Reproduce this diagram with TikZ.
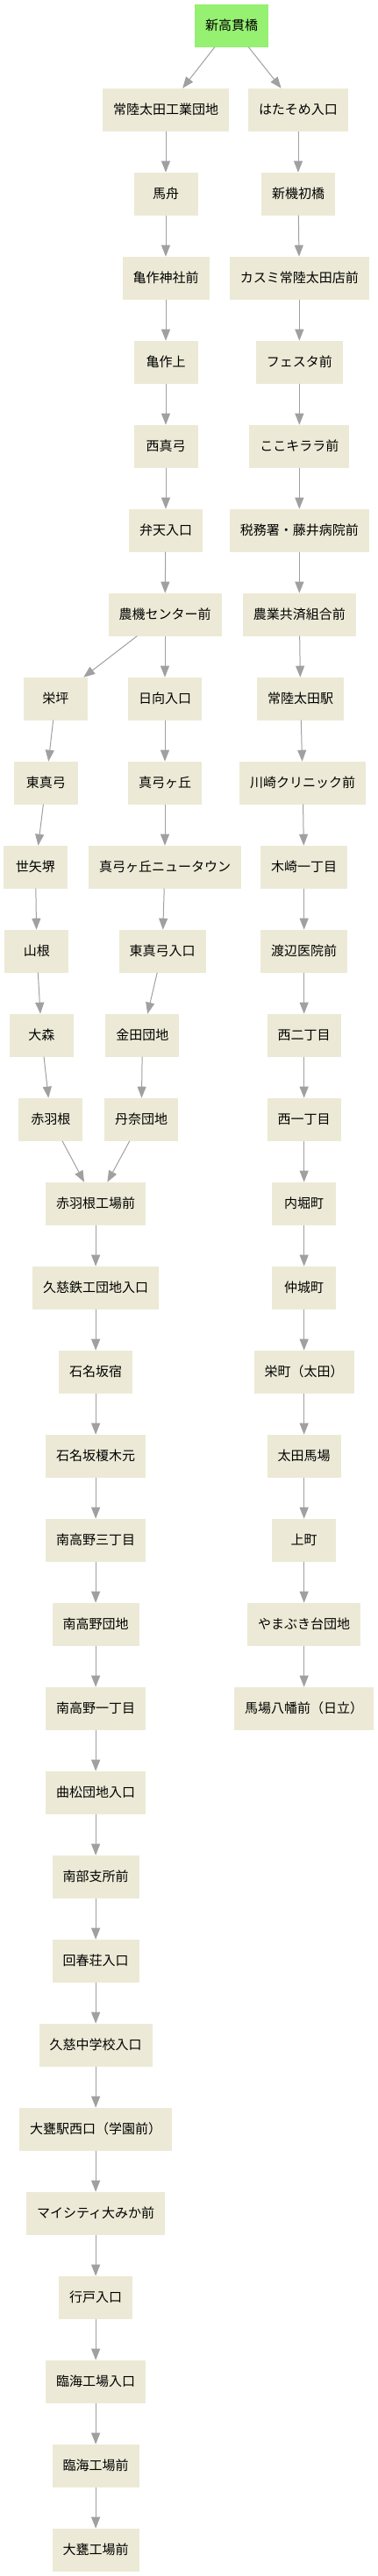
\documentclass[tikz,border=0pt]{standalone}
\usepackage{fontspec}
\newfontfamily\jpfont{Noto Sans CJK JP}
\usepackage{xcolor}
\usepackage{tikz}
\usetikzlibrary{arrows.meta,positioning}
\definecolor{stopfill}{RGB}{236,234,214}
\definecolor{startfill}{RGB}{150,240,114}
\definecolor{routegray}{RGB}{160,160,160}

\begin{document}
\begin{tikzpicture}[
  node distance=35.25pt and 10pt,
  every node/.style={font=\jpfont\fontsize{11.25pt}{13pt}\selectfont},
  stopbox/.style={fill=stopfill,inner xsep=9pt,outer sep=0pt,
                  minimum width=54.75pt,minimum height=36.75pt},
  startbox/.style={stopbox,fill=startfill},
  route/.style={-{Triangle[length=9.75pt,width=7.5pt]},line width=0.75pt,
                draw=routegray}
]
\useasboundingbox (0,0) rectangle (323.25pt,-2204.25pt);
\node[startbox] (takanuki) at (198pt,-21.9pt) {新高貫橋};
% left line
\node[stopbox,below=of takanuki,xshift=-56.25pt] (kogyo) {常陸太田工業団地};
\node[stopbox,below=of kogyo] (umafune) {馬舟};
\node[stopbox,below=of umafune] (kamesakujinja) {亀作神社前};
\node[stopbox,below=of kamesakujinja] (kamesakuue) {亀作上};
\node[stopbox,below=of kamesakuue] (nishimayumi) {西真弓};
\node[stopbox,below=of nishimayumi] (benten) {弁天入口};
\node[stopbox,below=of benten,xshift=-.75pt] (noki) {農機センター前};
\node[stopbox,below=of noki,xshift=-93.4pt] (sakaetsubo) {栄坪};
\node[stopbox,below=of sakaetsubo,xshift=-8.25pt] (higashimayumi) {東真弓};
\node[stopbox,below=of higashimayumi,xshift=-9pt] (seyasakai) {世矢堺};
\node[stopbox,below=of seyasakai,xshift=1.1pt] (yamane) {山根};
\node[stopbox,below=of yamane,xshift=4.1pt] (omori) {大森};
\node[stopbox,below=of omori,xshift=7.9pt] (akabane) {赤羽根};
\node[stopbox,below=of noki] (hinata) {日向入口};
\node[stopbox,below=of hinata] (mayumigaoka) {真弓ヶ丘};
\node[stopbox,below=of mayumigaoka] (newtown) {真弓ヶ丘ニュータウン};
\node[stopbox,below=of newtown,xshift=-2.25pt] (higashiiri) {東真弓入口};
\node[stopbox,below=of higashiiri,xshift=-16.9pt] (kaneda) {金田団地};
\node[stopbox,below=of kaneda,xshift=-1pt] (tanna) {丹奈団地};
\node[stopbox,below=of tanna,xshift=-39pt] (akabanekojo) {赤羽根工場前};
\node[stopbox,below=of akabanekojo] (kujitekko) {久慈鉄工団地入口};
\node[stopbox,below=of kujitekko] (ishinazaka) {石名坂宿};
\node[stopbox,below=of ishinazaka] (enokimoto) {石名坂榎木元};
\node[stopbox,below=of enokimoto] (minami3) {南高野三丁目};
\node[stopbox,below=of minami3] (minamidanchi) {南高野団地};
\node[stopbox,below=of minamidanchi] (minami1) {南高野一丁目};
\node[stopbox,below=of minami1] (magarimatsu) {曲松団地入口};
\node[stopbox,below=of magarimatsu] (nanbu) {南部支所前};
\node[stopbox,below=of nanbu] (kaishunso) {回春荘入口};
\node[stopbox,below=of kaishunso] (kujichu) {久慈中学校入口};
\node[stopbox,below=of kujichu] (ogekanishi) {大甕駅西口（学園前）};
\node[stopbox,below=of ogekanishi] (mycity) {マイシティ大みか前};
\node[stopbox,below=of mycity] (namado) {行戸入口};
\node[stopbox,below=of namado] (rinkaiiri) {臨海工場入口};
\node[stopbox,below=of rinkaiiri] (rinkai) {臨海工場前};
\node[stopbox,below=of rinkai] (ogekojo) {大甕工場前};
% right line
\node[stopbox,below=of takanuki,xshift=57pt] (hatasome) {はたそめ入口};
\node[stopbox,below=of hatasome] (shinkihatsu) {新機初橋};
\node[stopbox,below=of shinkihatsu,xshift=1pt] (kasumi) {カスミ常陸太田店前};
\node[stopbox,below=of kasumi] (festa) {フェスタ前};
\node[stopbox,below=of festa] (kokokirara) {ここキララ前};
\node[stopbox,below=of kokokirara] (zeimusho) {税務署・藤井病院前};
\node[stopbox,below=of zeimusho] (kyosai) {農業共済組合前};
\node[stopbox,below=of kyosai,xshift=1pt] (otaeki) {常陸太田駅};
\node[stopbox,below=of otaeki,xshift=1.9pt] (kawasaki) {川崎クリニック前};
\node[stopbox,below=of kawasaki,xshift=1.1pt] (kizaki) {木崎一丁目};
\node[stopbox,below=of kizaki] (watanabe) {渡辺医院前};
\node[stopbox,below=of watanabe] (nishi2) {西二丁目};
\node[stopbox,below=of nishi2] (nishi1) {西一丁目};
\node[stopbox,below=of nishi1] (uchibori) {内堀町};
\node[stopbox,below=of uchibori] (nakagi) {仲城町};
\node[stopbox,below=of nakagi] (sakaemachi) {栄町（太田）};
\node[stopbox,below=of sakaemachi] (otababa) {太田馬場};
\node[stopbox,below=of otababa] (kamimachi) {上町};
\node[stopbox,below=of kamimachi] (yamabuki) {やまぶき台団地};
\node[stopbox,below=of yamabuki] (hachiman) {馬場八幡前（日立）};
% connectors
\draw[route] (takanuki) -- (kogyo);
\draw[route] (takanuki) -- (hatasome);
\draw[route] (kogyo) -- (umafune);
\draw[route] (umafune) -- (kamesakujinja);
\draw[route] (kamesakujinja) -- (kamesakuue);
\draw[route] (kamesakuue) -- (nishimayumi);
\draw[route] (nishimayumi) -- (benten);
\draw[route] (benten) -- (noki);
\draw[route] (noki) -- (sakaetsubo);
\draw[route] (noki) -- (hinata);
\draw[route] (sakaetsubo) -- (higashimayumi);
\draw[route] (higashimayumi) -- (seyasakai);
\draw[route] (seyasakai) -- (yamane);
\draw[route] (yamane) -- (omori);
\draw[route] (omori) -- (akabane);
\draw[route] (akabane) -- (akabanekojo);
\draw[route] (hinata) -- (mayumigaoka);
\draw[route] (mayumigaoka) -- (newtown);
\draw[route] (newtown) -- (higashiiri);
\draw[route] (higashiiri) -- (kaneda);
\draw[route] (kaneda) -- (tanna);
\draw[route] (tanna) -- (akabanekojo);
\draw[route] (akabanekojo) -- (kujitekko);
\draw[route] (kujitekko) -- (ishinazaka);
\draw[route] (ishinazaka) -- (enokimoto);
\draw[route] (enokimoto) -- (minami3);
\draw[route] (minami3) -- (minamidanchi);
\draw[route] (minamidanchi) -- (minami1);
\draw[route] (minami1) -- (magarimatsu);
\draw[route] (magarimatsu) -- (nanbu);
\draw[route] (nanbu) -- (kaishunso);
\draw[route] (kaishunso) -- (kujichu);
\draw[route] (kujichu) -- (ogekanishi);
\draw[route] (ogekanishi) -- (mycity);
\draw[route] (mycity) -- (namado);
\draw[route] (namado) -- (rinkaiiri);
\draw[route] (rinkaiiri) -- (rinkai);
\draw[route] (rinkai) -- (ogekojo);
\draw[route] (hatasome) -- (shinkihatsu);
\draw[route] (shinkihatsu) -- (kasumi);
\draw[route] (kasumi) -- (festa);
\draw[route] (festa) -- (kokokirara);
\draw[route] (kokokirara) -- (zeimusho);
\draw[route] (zeimusho) -- (kyosai);
\draw[route] (kyosai) -- (otaeki);
\draw[route] (otaeki) -- (kawasaki);
\draw[route] (kawasaki) -- (kizaki);
\draw[route] (kizaki) -- (watanabe);
\draw[route] (watanabe) -- (nishi2);
\draw[route] (nishi2) -- (nishi1);
\draw[route] (nishi1) -- (uchibori);
\draw[route] (uchibori) -- (nakagi);
\draw[route] (nakagi) -- (sakaemachi);
\draw[route] (sakaemachi) -- (otababa);
\draw[route] (otababa) -- (kamimachi);
\draw[route] (kamimachi) -- (yamabuki);
\draw[route] (yamabuki) -- (hachiman);
\end{tikzpicture}
\end{document}
